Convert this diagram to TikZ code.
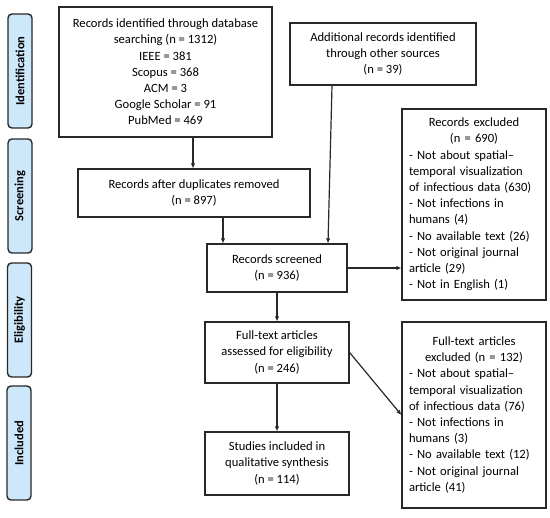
\documentclass[tikz,border=0pt]{standalone}
\usepackage{fontspec}
\setmainfont{Carlito}
\usetikzlibrary{arrows.meta,calc}
\definecolor{lblue}{RGB}{206,232,251}
\definecolor{lineg}{RGB}{40,40,40}
\begin{document}
\begin{tikzpicture}[x=1pt,y=-1pt,
  box/.style={draw=lineg,line width=1.2pt,inner sep=0pt,align=center,font=\fontsize{12.6}{16.2}\selectfont},
  side/.style={draw=lineg,line width=1.4pt,fill=lblue,rounded corners=4pt,minimum width=114pt,minimum height=24pt,rotate=90,font=\bfseries\fontsize{12.5}{14}\selectfont},
  arr/.style={draw=lineg,line width=1.2pt,-{Latex[length=5pt,width=4.5pt]}}]
\useasboundingbox (0,0) rectangle (550,518);
% side labels
\node[side] (lid) at (20,71) {Identification};
\node[side] (lsc) at (20,196) {Screening};
\node[side] (lel) at (19.5,320) {Eligibility};
\node[side] (lin) at (19,443) {Included};
% boxes
\node[box,minimum width=213pt,minimum height=130pt] (db) at (165.5,72)
 {Records identified through database\\searching (n = 1312)\\IEEE = 381\\Scopus = 368\\ACM = 3\\Google Scholar = 91\\PubMed = 469};
\node[box,minimum width=186pt,minimum height=62pt] (add) at (383,54)
 {Additional records identified\\through other sources\\(n = 39)};
\node[box,minimum width=232pt,minimum height=48pt] (dup) at (194,193)
 {Records after duplicates removed\\(n = 897)};
\node[box,minimum width=140pt,minimum height=48pt] (scr) at (277,268)
 {Records screened\\(n = 936)};
\node[box,minimum width=144pt,minimum height=191pt,text width=130pt,align=left] (ex1) at (474,204.5)
 {{\centering Records excluded\\(n = 690)\par}
 - Not about spatial–\\temporal visualization\\of infectious data (630)\\- Not infections in\\humans (4)\\- No available text (26)\\- Not original journal\\article (29)\\- Not in English (1)};
\node[box,minimum width=144pt,minimum height=61pt] (ft) at (277,352.5)
 {Full-text articles\\assessed for eligibility\\(n = 246)};
\node[box,minimum width=144pt,minimum height=63pt] (inc) at (277,463.5)
 {Studies included in\\qualitative synthesis\\(n = 114)};
\node[box,minimum width=144pt,minimum height=186pt,text width=130pt,align=left] (ex2) at (474,415)
 {{\centering Full-text articles\\excluded (n = 132)\par}
 - Not about spatial–\\temporal visualization\\of infectious data (76)\\- Not infections in\\humans (3)\\- No available text (12)\\- Not original journal\\article (41)\par\vspace{14pt}};
% connectors
\draw[arr] ([xshift=27.5pt]db.south) -- ([xshift=27.5pt]db.south |- dup.north);
\draw[arr] ([xshift=29pt]dup.south) -- ([xshift=29pt]dup.south |- scr.north);
\draw[arr] ([xshift=-51pt]add.south) -- ([xshift=51pt]scr.north);
\draw[arr] (scr.east) -- (scr.east -| ex1.west);
\draw[arr] (scr.south) -- (ft.north);
\draw[arr] (ft.south) -- (inc.north);
\draw[arr] (ft.east) -- (ex2.west);
\end{tikzpicture}
\end{document}
